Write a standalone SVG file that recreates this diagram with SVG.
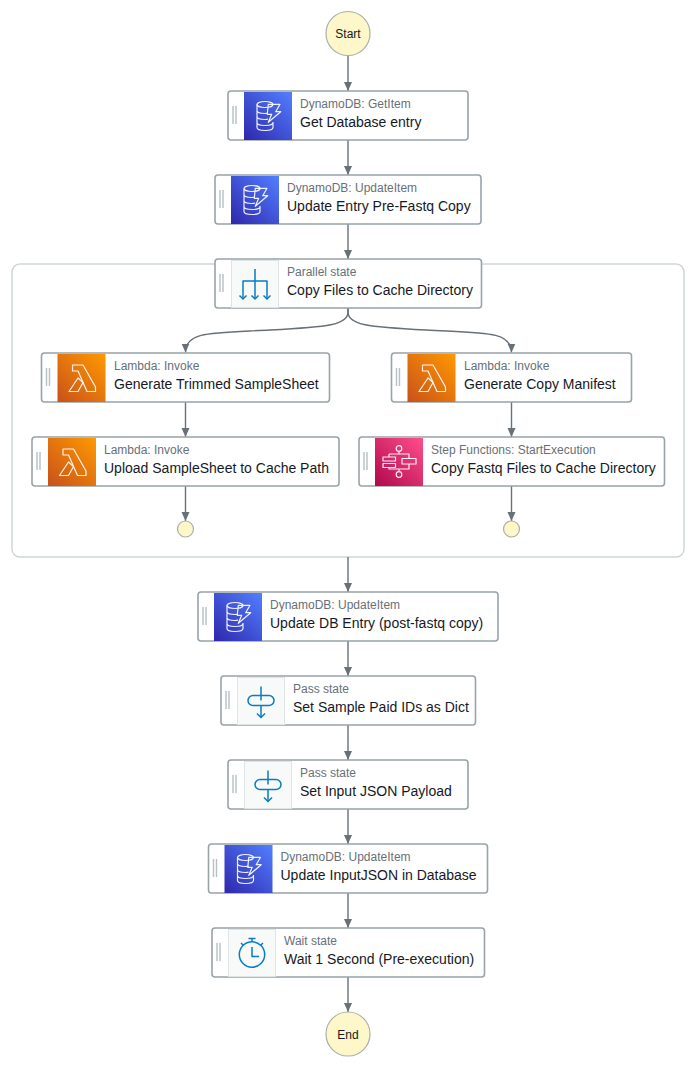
<svg xmlns="http://www.w3.org/2000/svg" xmlns:xlink="http://www.w3.org/1999/xlink" width="696" height="1068" viewBox="0 0 696 1068">
<style>
text{font-family:"Liberation Sans",Arial,sans-serif}
.box{fill:#fff;stroke:#98a3a8;stroke-width:1.6}
.sub{font-size:12px;fill:#687078}
.ttl{font-size:14px;fill:#16191f}
.term{font-size:12px;fill:#16191f;text-anchor:middle}
.circ{fill:#fdf7c9;stroke:#aab0a8;stroke-width:1.2}
.grip{stroke:#b4c0c1;stroke-width:1.400;fill:none}
.w{fill:none;stroke:#fff;stroke-width:1.200;stroke-linejoin:round;opacity:.92}
.b{fill:none;stroke:#0a7cc1;stroke-width:1.500;stroke-linejoin:round}
.ibg{fill:#f8f9f9;stroke:#dfe4e4;stroke-width:1}
.con{fill:none;stroke:#687078;stroke-width:1.400;marker-end:url(#ah)}
</style>
<defs>
<marker id="ah" markerUnits="userSpaceOnUse" markerWidth="10" markerHeight="9" refX="9" refY="4" orient="auto"><path d="M0 0L9 4L0 8Z" fill="#687078"/></marker>
<linearGradient id="gd" x1="0" y1="1" x2="1" y2="0"><stop offset="0" stop-color="#2e27ad"/><stop offset="1" stop-color="#527fff"/></linearGradient>
<linearGradient id="gl" x1="0" y1="1" x2="1" y2="0"><stop offset="0" stop-color="#c8511b"/><stop offset="1" stop-color="#ff9900"/></linearGradient>
<linearGradient id="gs" x1="0" y1="1" x2="1" y2="0"><stop offset="0" stop-color="#b0084d"/><stop offset="1" stop-color="#ff4f8b"/></linearGradient>
<g id="grip"><path class="grip" d="M5 15V33M8 15V33"/></g>
<g id="iDb"><rect width="48" height="48" fill="url(#gd)"/>
<g class="w"><ellipse cx="21" cy="12.500" rx="8" ry="3"/><path d="M13 12.500V35.500C13 37.200 16.500 38.500 21 38.500S29 37.200 29 35.500V30M13 18.500C13 20.200 16.500 21.500 21 21.500C22 21.500 23 21.400 24 21.200M13 24.500C13 26.200 16.500 27.500 21 27.500C22 27.500 23 27.400 24 27.200M13 30.500C13 32.200 16.500 33.500 21 33.500S29 32.200 29 30.500"/><path d="M24.300 12.300H36L31.700 19.700H36.700L24.300 30.300L27.700 22.300H23.300Z"/></g></g>
<g id="iLm"><rect width="48" height="48" fill="url(#gl)"/>
<g class="w"><path d="M15 11H25.500L38 33V37.500H29.500L20.500 17H15Z"/><path d="M20.500 24L11.500 37.500H20.500L25.500 28.500Z"/></g></g>
<g id="iSf"><rect width="48" height="48" fill="url(#gs)"/>
<g class="w"><circle cx="24" cy="10.500" r="2.800"/><circle cx="24" cy="36.500" r="2.800"/><path d="M24 13.300V16M24 31V33.700M14 16H34V20.500M34 26V31H14V29.500M14 16V19"/><rect x="8" y="19" width="12.500" height="4"/><rect x="8" y="25.500" width="12.500" height="4"/><rect x="27" y="20.500" width="14" height="5.500"/></g></g>
<g id="iPar"><rect x=".5" y=".5" width="47" height="47" class="ibg"/>
<g class="b"><path d="M24 9V39M12 39V21H36V39"/><path d="M8.500 35.500L12 39L15.500 35.500M20.500 35.500L24 39L27.500 35.500M32.500 35.500L36 39L39.500 35.500"/></g></g>
<g id="iPas"><rect x=".5" y=".5" width="47" height="47" class="ibg"/>
<g class="b"><path d="M24 9.500V23.500M24 28.500V40.500"/><rect x="11" y="18.500" width="26" height="10" rx="5"/><path d="M20 36.500L24 40.500L28 36.500"/></g></g>
<g id="iWt"><rect x=".5" y=".5" width="47" height="47" class="ibg"/>
<g class="b"><circle cx="24" cy="25.500" r="12.700"/><path d="M20.500 9.500H27.500M24 9.500V13M24 18V27.500H31"/><path d="M13 14L15.500 16.500M35 14L32.500 16.500"/></g></g>
</defs>

<rect id="parallel-container" x="12" y="264" width="672" height="293" rx="8" fill="#fff" stroke="#d0d6d6" stroke-width="1.500"/>

<g id="connectors">
<path class="con" d="M348 55.500V91"/>
<path class="con" d="M348 140V175"/>
<path class="con" d="M348 224V259"/>
<path class="con" d="M348 308V312C348 325 328 327 270 330C212 333 185.500 331 185.500 352.500"/>
<path class="con" d="M348 308V312C348 325 368 327 426 330C484 333 511.500 331 511.500 352.500"/>
<path class="con" d="M185.500 402V437"/>
<path class="con" d="M185.500 486V521"/>
<path class="con" d="M511.500 402V437"/>
<path class="con" d="M511.500 486V521"/>
<path class="con" d="M348 557V592"/>
<path class="con" d="M348 641V676"/>
<path class="con" d="M348 725V760"/>
<path class="con" d="M348 809V844"/>
<path class="con" d="M348 893V928"/>
<path class="con" d="M348 977V1012"/>
</g>

<g id="start"><circle class="circ" cx="348" cy="33.500" r="22"/><text class="term" x="348" y="38">Start</text></g>

<g id="get-database-entry"><rect class="box" x="228" y="91" width="240" height="49" rx="3"/><use href="#grip" x="228" y="91"/><use href="#iDb" x="244" y="92"/><text class="sub" x="300" y="108">DynamoDB: GetItem</text><text class="ttl" x="300" y="127">Get Database entry</text></g>

<g id="update-entry-pre-fastq"><rect class="box" x="215" y="175" width="266" height="49" rx="3"/><use href="#grip" x="215" y="175"/><use href="#iDb" x="231" y="176"/><text class="sub" x="287" y="192">DynamoDB: UpdateItem</text><text class="ttl" x="287" y="211">Update Entry Pre-Fastq Copy</text></g>

<g id="copy-files"><rect class="box" x="215" y="259" width="266.500" height="49" rx="3"/><use href="#grip" x="215" y="259"/><use href="#iPar" x="231" y="260"/><text class="sub" x="287" y="276">Parallel state</text><text class="ttl" x="287" y="295">Copy Files to Cache Directory</text></g>

<g id="generate-trimmed"><rect class="box" x="41.500" y="353" width="288" height="49" rx="3"/><use href="#grip" x="41.500" y="353"/><use href="#iLm" x="57.500" y="354"/><text class="sub" x="114" y="370">Lambda: Invoke</text><text class="ttl" x="114" y="389">Generate Trimmed SampleSheet</text></g>

<g id="upload-samplesheet"><rect class="box" x="32" y="437" width="307" height="49" rx="3"/><use href="#grip" x="32" y="437"/><use href="#iLm" x="48" y="438"/><text class="sub" x="104" y="454">Lambda: Invoke</text><text class="ttl" x="104" y="473">Upload SampleSheet to Cache Path</text></g>

<g id="generate-manifest"><rect class="box" x="391.500" y="353" width="240" height="49" rx="3"/><use href="#grip" x="391.500" y="353"/><use href="#iLm" x="407.500" y="354"/><text class="sub" x="464" y="370">Lambda: Invoke</text><text class="ttl" x="464" y="389">Generate Copy Manifest</text></g>

<g id="copy-fastq"><rect class="box" x="359" y="437" width="305.500" height="49" rx="3"/><use href="#grip" x="359" y="437"/><use href="#iSf" x="375" y="438"/><text class="sub" x="431" y="454">Step Functions: StartExecution</text><text class="ttl" x="431" y="473">Copy Fastq Files to Cache Directory</text></g>

<g id="end-left"><circle class="circ" cx="185.500" cy="529" r="8"/></g>
<g id="end-right"><circle class="circ" cx="511.500" cy="529" r="8"/></g>

<g id="update-db-entry"><rect class="box" x="198" y="592" width="300" height="49" rx="3"/><use href="#grip" x="198" y="592"/><use href="#iDb" x="214" y="593"/><text class="sub" x="270" y="609">DynamoDB: UpdateItem</text><text class="ttl" x="270" y="628">Update DB Entry (post-fastq copy)</text></g>

<g id="set-sample-paid"><rect class="box" x="221" y="676" width="254.500" height="49" rx="3"/><use href="#grip" x="221" y="676"/><use href="#iPas" x="237" y="677"/><text class="sub" x="293" y="693">Pass state</text><text class="ttl" x="293" y="712">Set Sample Paid IDs as Dict</text></g>

<g id="set-input-json"><rect class="box" x="228" y="760" width="240" height="49" rx="3"/><use href="#grip" x="228" y="760"/><use href="#iPas" x="244" y="761"/><text class="sub" x="300" y="777">Pass state</text><text class="ttl" x="300" y="796">Set Input JSON Payload</text></g>

<g id="update-inputjson"><rect class="box" x="208.500" y="844" width="279" height="49" rx="3"/><use href="#grip" x="208.500" y="844"/><use href="#iDb" x="224.500" y="845"/><text class="sub" x="280.500" y="861">DynamoDB: UpdateItem</text><text class="ttl" x="280.500" y="880">Update InputJSON in Database</text></g>

<g id="wait-1-second"><rect class="box" x="212" y="928" width="272.500" height="49" rx="3"/><use href="#grip" x="212" y="928"/><use href="#iWt" x="228" y="929"/><text class="sub" x="284" y="945">Wait state</text><text class="ttl" x="284" y="964">Wait 1 Second (Pre-execution)</text></g>

<g id="end"><circle class="circ" cx="348" cy="1034" r="22"/><text class="term" x="348" y="1038.500">End</text></g>
</svg>
